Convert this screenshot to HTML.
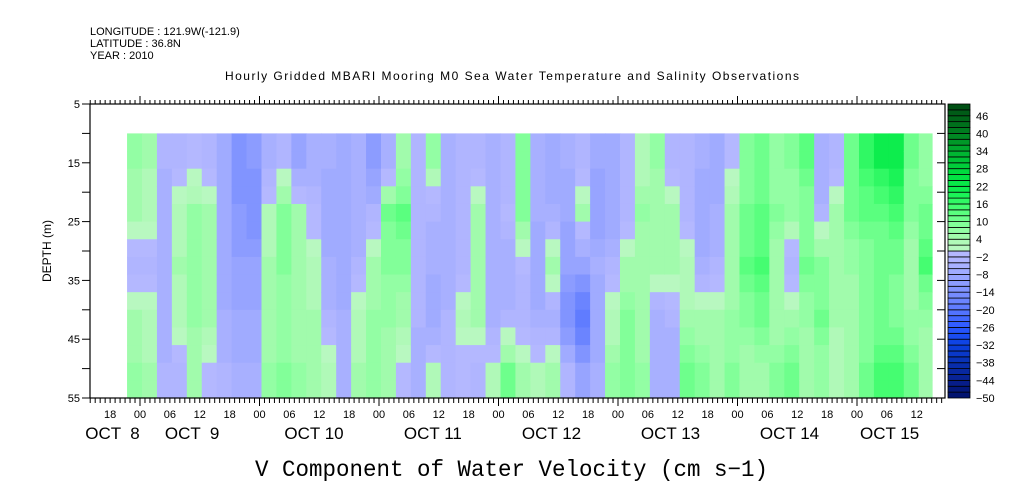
<!DOCTYPE html>
<html><head><meta charset="utf-8"><style>
body{margin:0;background:#fff;}
svg{display:block;font-family:"Liberation Sans",sans-serif;}
</style></head><body>
<svg id="chart" width="1009" height="504" viewBox="0 0 1009 504" xmlns="http://www.w3.org/2000/svg">
<g font-size="11" fill="#000">
<text x="90" y="35">LONGITUDE : 121.9W(-121.9)</text>
<text x="90" y="47">LATITUDE : 36.8N</text>
<text x="90" y="59">YEAR : 2010</text>
</g>
<text x="512" y="80" text-anchor="middle" font-size="12" textLength="574">Hourly Gridded MBARI Mooring M0 Sea Water Temperature and Salinity Observations</text>
<text transform="translate(51,251) rotate(-90)" text-anchor="middle" font-size="12">DEPTH (m)</text>
<text x="255" y="476" font-size="23" textLength="513" lengthAdjust="spacingAndGlyphs" font-family="Liberation Mono, monospace">V Component of Water Velocity (cm s−1)</text>
<g id="cells"></g>
<g id="axes"></g>
<g id="cbar"></g>
</svg>
<script>
// depth bands (m, top edge) and values per column (3-hourly)
const depthBands = [10, 19, 28, 37, 46];
const band10to19 = [6,4,-4,-4,-2,-4,-8,-14,-12,-6,-4,-10,-6,-6,-8,-6,-12,-6,4,-4,6,-6,-4,-4,-6,-4,8,-6,-8,-6,-4,-8,-8,-4,2,6,-4,-4,-6,-8,-2,8,10,6,8,12,-6,-4,10,16,20,20,10,6];
const band19to28 = [4,2,-6,2,6,4,-8,-12,-14,2,8,4,-2,-8,-8,-6,-4,10,12,-4,-4,-6,-4,4,-6,-2,8,-6,-6,-8,4,-10,-8,-4,6,4,4,-4,-8,-6,4,10,12,8,6,8,-4,4,10,12,12,14,8,10];
const band28to37 = [-4,-4,-6,4,6,4,-8,-10,-10,4,8,4,2,-6,-8,-4,4,8,8,-4,-6,-6,-4,4,-6,-6,-2,-8,4,-10,-10,-6,-4,4,4,4,4,2,-6,-4,4,12,14,4,-4,10,8,4,6,8,10,10,4,14];
const band37to46 = [4,2,-6,2,6,4,-6,-8,-8,4,6,4,4,-4,-6,2,6,6,4,-4,-8,-4,2,4,-6,-4,-4,-6,-6,-14,-20,-8,2,8,4,-6,-4,4,4,4,6,8,10,4,4,6,10,4,4,8,10,8,6,6];
const band46to55 = [6,4,-4,-4,4,-2,-4,-6,-6,6,8,6,4,2,-6,4,6,4,-2,-6,2,-4,-2,-4,2,10,4,2,4,-4,-10,-6,6,8,6,-6,-6,10,8,4,8,4,4,8,10,4,6,2,4,10,14,14,10,4];
const bands = [band10to19, band19to28, band28to37, band37to46, band46to55];
const timeStartHour = -2.6;   // hours relative to Oct 8 00:00
const timeStepHours = 3;
const tickLabels = ["18","00","06","12","18","00","06","12","18","00","06","12","18","00","06","12","18","00","06","12","18","00","06","12","18","00","06","12","18","00","06","12","18","00","06","12"];
const tickStartHour = -6;
const dateLabels = ["OCT  8","OCT  9","OCT 10","OCT 11","OCT 12","OCT 13","OCT 14","OCT 15"];
const dateLabelHours = [-11, 5, 29, 53, 76.7, 100.6, 124.5, 144.6];
const depthTicks = [5,15,25,35,45,55];
const cbarLabels = [46,40,34,28,22,16,10,4,-2,-8,-14,-20,-26,-32,-38,-44,-50];

const NS="http://www.w3.org/2000/svg";
const X0=90,X1=945,Y0=104,Y1=398;
const xOf=h=>140+h*119.5/24;
const yOf=d=>Y0+(d-5)*(Y1-Y0)/50;
function mk(tag,attrs,parent){const e=document.createElementNS(NS,tag);for(const k in attrs)e.setAttribute(k,attrs[k]);parent.appendChild(e);return e;}
const stops=[[-50,[0,16,104]],[-44,[8,32,144]],[-38,[8,48,176]],[-32,[10,64,224]],[-26,[42,88,255]],[-20,[90,120,255]],[-14,[124,144,255]],[-8,[156,168,255]],[-2,[180,184,255]],[-0.5,[180,184,255]],[0.5,[184,248,192]],[2,[184,248,192]],[4,[168,250,176]],[8,[140,255,160]],[14,[80,255,120]],[20,[16,240,80]],[26,[0,224,64]],[34,[0,176,48]],[40,[0,128,32]],[46,[0,96,24]],[52,[0,64,16]]];
function color(v){
  let b=Math.floor(v/2)*2+1;
  b=Math.max(-49,Math.min(51,b));
  for(let i=0;i<stops.length-1;i++){const a=stops[i],c=stops[i+1];
    if(b>=a[0]&&b<=c[0]){const t=(b-a[0])/(c[0]-a[0]);return "rgb("+a[1].map((q,j)=>Math.round(q+(c[1][j]-q)*t)).join(",")+")";}}
  return "#000";
}
function valAt(c,d){
  const centers=depthBands.map((t,i)=>(t+(i<depthBands.length-1?depthBands[i+1]:55))/2);
  if(d<=centers[0])return bands[0][c];
  for(let i=0;i<centers.length-1;i++){if(d<=centers[i+1]){const t=(d-centers[i])/(centers[i+1]-centers[i]);return bands[i][c]+(bands[i+1][c]-bands[i][c])*t;}}
  return bands[bands.length-1][c];
}
const cells=document.getElementById('cells');
const nCols=bands[0].length, SUB=3;
for(let c=0;c<nCols;c++){
  const h0=timeStartHour+c*timeStepHours;
  const x=xOf(h0), w=Math.min(xOf(h0+timeStepHours),932)-x;
  for(let d=10;d<55;d+=SUB){
    const v=valAt(c,d+SUB/2);
    const rc=mk('rect',{x:x.toFixed(2),y:yOf(d).toFixed(2),width:(w+0.6).toFixed(2),height:(yOf(Math.min(d+SUB,55))-yOf(d)+0.6).toFixed(2),fill:color(v)},cells);
    
    
  }
}
const ax=document.getElementById('axes');
mk('rect',{x:X0,y:Y0,width:X1-X0,height:Y1-Y0,fill:'none',stroke:'#000','stroke-width':1.2},ax);
for(let h=-10;;h++){const x=xOf(h);if(x<X0)continue;if(x>X1)break;
  const major=((h%24)+24)%24===0;
  mk('line',{x1:x,y1:Y0,x2:x,y2:Y0-(major?8:4),stroke:'#000','stroke-width':1},ax);
  mk('line',{x1:x,y1:Y1,x2:x,y2:Y1+(major?8:5),stroke:'#000','stroke-width':1},ax);
}
tickLabels.forEach((t,i)=>{const x=xOf(tickStartHour+i*6);if(x<X0||x>X1)return;
  const e=mk('text',{x:x,y:418,'text-anchor':'middle','font-size':11},ax);e.textContent=t;
  
  });
dateLabels.forEach((t,i)=>{const e=mk('text',{x:xOf(dateLabelHours[i]),y:439,'font-size':17,'xml:space':'preserve'},ax);e.textContent=t;e.setAttribute('style','white-space:pre');
  
  });
for(let d=10;d<=50;d+=5){mk('line',{x1:X0,y1:yOf(d),x2:X0-8,y2:yOf(d),stroke:'#000'},ax);mk('line',{x1:X1,y1:yOf(d),x2:X1-8,y2:yOf(d),stroke:'#000'},ax);}
mk('line',{x1:X0,y1:Y0,x2:X0-8,y2:Y0,stroke:'#000'},ax);mk('line',{x1:X0,y1:Y1,x2:X0-8,y2:Y1,stroke:'#000'},ax);
depthTicks.forEach(d=>{const e=mk('text',{x:80,y:yOf(d)+4,'text-anchor':'end','font-size':11},ax);e.textContent=d;
  
  });
const cb=document.getElementById('cbar');
for(let v=-50;v<50;v+=2){
  const r=mk('rect',{x:948,y:(Y1-(v+52)*(Y1-Y0)/100).toFixed(2),width:22,height:((Y1-Y0)/50).toFixed(2),fill:color(v+1),stroke:'#000','stroke-width':0.8},cb);
  
  }
cbarLabels.forEach(v=>{const y=Y1-(v+50)*(Y1-Y0)/100;
  const e=mk('text',{x:976,y:y+4,'font-size':11},cb);e.textContent=String(v).replace('-','−');
  
  });
</script>
</body></html>
